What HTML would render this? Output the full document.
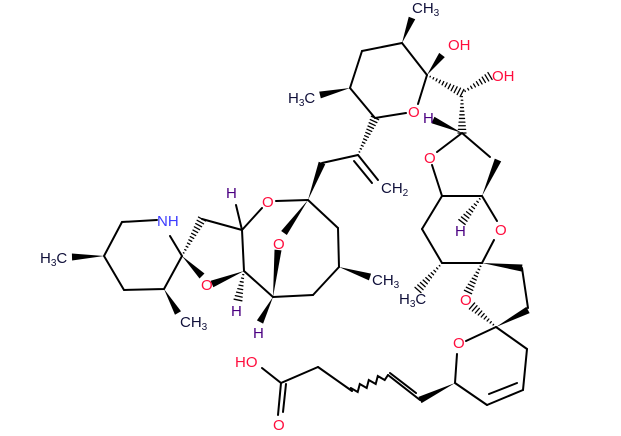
<!DOCTYPE html>
<html><head><meta charset="utf-8"><style>
html,body{margin:0;padding:0;background:#fff;}
svg{display:block}
text{font-family:"Liberation Sans",Arial,sans-serif;font-size:15px;}
.o{fill:#ff0d3d}.n{fill:#3c3cff}.h{fill:#4b0082}.c{fill:#10103a}
</style></head><body>
<svg id="s" width="621" height="436" viewBox="0 0 621 436" xmlns="http://www.w3.org/2000/svg">
<g id="b" stroke="#000" stroke-width="2" fill="none" stroke-linecap="round"></g>
<g id="w" fill="#000"></g>
<g id="t">
<text x="157" y="226" class="n">NH</text>
<text x="40" y="263" class="c">H<tspan font-size="10" dy="3">3</tspan><tspan dy="-3">C</tspan></text>
<text x="180" y="327" class="c">CH<tspan font-size="10" dy="3">3</tspan></text>
<text x="201" y="290" class="o">O</text>
<text x="226" y="198" class="h">H</text>
<text x="262" y="207" class="o">O</text>
<text x="273" y="249" class="o">O</text>
<text x="231" y="316" class="h">H</text>
<text x="253" y="338" class="h">H</text>
<text x="372" y="285" class="c">CH<tspan font-size="10" dy="3">3</tspan></text>
<text x="381" y="193" class="c">CH<tspan font-size="10" dy="3">2</tspan></text>
<text x="288" y="103" class="c">H<tspan font-size="10" dy="3">3</tspan><tspan dy="-3">C</tspan></text>
<text x="408" y="117" class="o">O</text>
<text x="412" y="13" class="c">CH<tspan font-size="10" dy="3">3</tspan></text>
<text x="448" y="50" class="o">OH</text>
<text x="492" y="81" class="o">OH</text>
<text x="423" y="123" class="h">H</text>
<text x="424" y="163" class="o">O</text>
<text x="455" y="236" class="h">H</text>
<text x="495" y="235" class="o">O</text>
<text x="399" y="304" class="c">H<tspan font-size="10" dy="3">3</tspan><tspan dy="-3">C</tspan></text>
<text x="460" y="305" class="o">O</text>
<text x="453" y="348" class="o">O</text>
<text x="235" y="367" class="o">HO</text>
<text x="273" y="430" class="o">O</text>
</g>
</svg>
<script>
var NS="http://www.w3.org/2000/svg",B=document.getElementById('b'),W=document.getElementById('w');
function L(x1,y1,x2,y2){var e=document.createElementNS(NS,'line');e.setAttribute('x1',x1);e.setAttribute('y1',y1);e.setAttribute('x2',x2);e.setAttribute('y2',y2);B.appendChild(e);}
function P(pts){var p=[];for(var i=0;i<pts.length;i+=2)p.push(pts[i]+','+pts[i+1]);var l=document.createElementNS(NS,'polyline');l.setAttribute('points',p.join(' '));B.appendChild(l);}
function WG(x1,y1,x2,y2){var dx=x2-x1,dy=y2-y1,d=Math.hypot(dx,dy),nx=-dy/d*3.5,ny=dx/d*3.5;var e=document.createElementNS(NS,'polygon');e.setAttribute('points',x1+','+y1+' '+(x2+nx)+','+(y2+ny)+' '+(x2-nx)+','+(y2-ny));W.appendChild(e);}
function H(x1,y1,x2,y2){var dx=x2-x1,dy=y2-y1,d=Math.hypot(dx,dy),n=Math.max(4,Math.round(d/3.5));for(var i=1;i<=n;i++){var t=i/n,w=4*t,cx=x1+dx*t,cy=y1+dy*t,nx=-dy/d*w,ny=dx/d*w;var e=document.createElementNS(NS,'line');e.setAttribute('x1',cx+nx);e.setAttribute('y1',cy+ny);e.setAttribute('x2',cx-nx);e.setAttribute('y2',cy-ny);e.setAttribute('stroke-width','1.3');B.appendChild(e);}}
P([157,220,122,222,104,256,124,290,164,289,182,256,170,236]);
WG(104,256,72,257);WG(164,289,178,313);
H(182,256,202,219);WG(182,256,202,276);
L(202,219,242,230);L(242,230,236,205);L(242,230,262,208);L(242,230,244,271);
WG(244,271,212,284);H(244,271,238,300);L(244,271,273,297);
WG(273,297,260,322);WG(273,297,278,250);
L(276,201,308,200);WG(308,200,284,233);WG(308,200,322,163);
L(308,200,338,228);L(338,228,339,267);WG(339,267,370,277);L(339,267,313,295);L(313,295,273,297);
L(322,163,358,155);L(358,155,378,180);L(354,161,372,183);
H(358,155,375,118);
L(375,118,406,113);L(418,104,427,75);L(427,75,402,43);L(402,43,362,51);L(362,51,350,88);L(350,88,375,118);
WG(350,88,320,95);WG(402,43,412,18);WG(427,75,442,55);H(427,75,462,93);H(462,93,490,76);H(462,93,462,133);
WG(462,133,433,120);
L(462,133,437,152);L(462,133,490,157);WG(482,196,498,160);
L(432,165,442,196);L(442,196,482,196);H(482,196,462,222);L(482,196,497,221);
L(442,196,422,229);L(422,229,442,263);L(442,263,482,263);L(482,263,494,240);
H(442,263,418,290);WG(482,263,522,268);L(522,268,528,308);WG(496,327,528,310);
H(482,263,468,292);H(496,327,472,306);
L(496,327,466,341);L(496,327,527,349);L(527,349,523,390);L(523,390,487,405);L(517,383,489,394);
L(487,405,455,383);L(455,383,457,354);WG(455,383,420,400);
L(420,400,388,375);L(416,393,390,373);
var z="M388 375";for(var i=1;i<=8;i++){var t=i/8,x=388+(352-388)*t,y=375+(391-375)*t,o=(i%2?3:-3);z+=" L"+(x+o*0.4)+" "+(y+o);}
var pz=document.createElementNS(NS,'path');pz.setAttribute('d',z);B.appendChild(pz);
L(352,391,318,367);L(318,367,281,383);L(281,383,262,368);L(281,383,278,415);L(286,384,283,412);
</script>
</body></html>
